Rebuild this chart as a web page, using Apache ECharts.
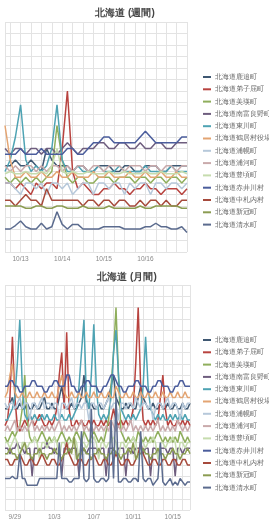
<!DOCTYPE html>
<html>
<head>
<meta charset="utf-8">
<script src="https://cdn.jsdelivr.net/npm/echarts@6/dist/echarts.min.js"></script>
<style>
  html, body { margin: 0; padding: 0; background: #fff; }
  #chart { width: 269px; height: 522px; }
</style>
</head>
<body>
<div id="chart"></div>
<script>
// series names (same for both panels)
const names = [
  "北海道鹿追町", "北海道弟子屈町", "北海道美瑛町", "北海道南富良野町", "北海道東川町",
  "北海道鶴居村役場", "北海道浦幌町", "北海道浦河町", "北海道豊頃町", "北海道赤井川村 ",
  "北海道中札内村", "北海道新冠町", "北海道清水町"
];
const colors = [
  "#3f5872", "#b8433f", "#8fae5c", "#6e5d7e", "#4ea3b3", "#e3a472", "#b6c8da",
  "#c9aaab", "#c6dcae", "#4b5d9c", "#a64a3c", "#8b9c52", "#5b6b8e"
];

const weekTicks = ["10/13", "10/14", "10/15", "10/16"];
const monthTicks = ["9/29", "10/3", "10/7", "10/11", "10/15"];

// 週間: 3-hour steps from 10/12 15:00
const week1 = [7.5,7.5,8,7.5,7.5,8,7.5,7,9,8,7.5,7.5,7.5,7,7.5,7.5,7,7,7.5,7.5,7.5,7,7,7.5,7.5,7,7,7.5,7.5,7.5,7,7,7.5,7.5,7.5,7.5];
const week2 = [6,6,5.5,6,5.5,5,6,5.5,6,6,5.5,9,14,7,5.5,6,5.5,5,5,5.5,5.5,6,5.5,5.5,5,5.5,5.5,6,5.5,5.5,5,5.5,5.5,5.5,5,5.5];
const week3 = [6.5,6,6.5,6,6.5,6,6.5,6,6.5,7,11,8,6.5,6,6.5,6.5,6,6,6.5,6.5,6.5,6,6.5,6.5,6.5,6,6.5,6.5,6,6.5,6.5,6,6.5,6.5,6,6.5];
const week4 = [9,8.5,9,9,8.5,9,9,8.5,9,9,8.5,9,9.5,9,8.5,9,9,9,9.5,9.5,9,9,9.5,9.5,9,9,9.5,9,9,9.5,9.5,9,9,9.5,9.5,9.5];
const week5 = [7,8,10,12.8,8,7,7.5,7,7.5,9,12.8,8,7,7,7.5,7,7,7,7.5,7,7,7,7.5,7,7,7,7,7.5,7,7,7,7,7.5,7,7,7];
const week6 = [11,8,6.5,6.5,7,6.5,6.5,7,6.5,6.5,7,6.5,6.5,7,6.5,6.5,6.5,7,6.5,6.5,7,6.5,6.5,6.5,7,6.5,6.5,7,6.5,6.5,7,6.5,6.5,7,6.5,6.5];
const week7 = [6,6,5.5,5,6,6,5.5,6,5,6,6,5.5,6,5,5.5,6,6,5,6,6,5.5,6,6,5,6,5.5,6,6,5,6,6,5.5,6,6,5.5,6];
const week8 = [7.5,7,7.5,7,7.5,7.5,7,7.5,7,7.5,7.5,7,7.5,7,7.5,7.5,7,7.5,7.5,7,7.5,7.5,7.5,7,7.5,7.5,7.5,7,7.5,7.5,7,7.5,7.5,7,7.5,7.5];
const week9 = [6.8,7,6.8,6.8,7,6.8,6.8,7,6.8,7.5,9,7,6.8,7,6.8,6.8,7,6.8,6.8,6.8,7,6.8,6.8,7,6.8,6.8,6.8,7,6.8,6.8,7,6.8,6.8,6.8,7,6.8];
const week10 = [8.5,8.5,8.5,9,8.5,8.5,8.5,9,8.5,8.5,8.5,8.5,9,9,8.5,8.5,9,9.5,9.5,10,10,9.5,9.5,9.5,9.5,9.5,10,10.5,10,9.5,9.5,9.5,9.5,9.5,10,10];
const week11 = [4.5,4.5,4,4.5,5,4.5,4.5,4,5.5,4.5,4.5,4.5,4.5,4.5,4.5,4,4.5,4.5,4,4.5,4.5,4,4.5,4.5,4,4,4.5,4,4.5,4.5,4,4.5,4,4,4.5,4.5];
const week12 = [4,4,4,4,3.8,3.8,4,4,3.8,3.8,4,4,3.8,3.8,3.8,4,3.8,3.8,3.8,3.8,4,3.8,3.8,3.8,3.8,3.8,4,3.8,3.8,4,4,4,4,4,3.8,3.8];
const week13 = [2,2,2.3,2.7,2.2,2,2,2.5,2,2.2,3.5,2.4,2,2.4,2.4,2,2,2,2,2.2,2.2,2.2,2.2,2,2,2,2,2.2,2.2,2.5,2.2,2.2,2,2,2.2,1.7];

// 月間: 6-hour steps from 9/28 00:00
const month1 = [9,9,9.5,10,9,9,9.5,9,9,9.5,9,9,9.5,9,9,9.5,10,9,9,
  9.5,9,9,10,11,9.5,9,9,9.5,9,9,9.5,10,12,9.5,9,9.5,9,9,
  9.5,9,9,9.5,10,11,12,10,9.5,9,9,9.5,9,9.5,9,9,10,11,10,
  9.5,9,9,9.5,9,9,9.5,9,9,9.5,9,9,9.5,9,9,9.5,9,9,9.5];
const month2 = [7.5,8,10,15.4,10,7.5,7,7.5,8,7.5,8.5,8,7.5,8,8.5,8,7.5,7.5,8,
  7.5,8,9,12,14,9,15.8,9,7.5,7.5,8,7.5,8,7.5,7.5,8,7.5,8,7.5,
  7.5,8,7.5,8,7.5,8,9,8,7.5,8,7.5,8,7.5,8,9,13,18,11,8,
  7.5,8,7.5,8,7.5,8,10,12,9,7.5,8,7.5,7.5,8,7.5,8,7.5,8,7.5];
const month3 = [6.5,6,6.5,7,6.5,7,7.5,9,12,8,6.5,6,6.5,6,6.5,7,6.5,6,6.5,
  6,6.5,6,6.5,7,6.5,6,6.5,6,6.5,7,6.5,6,7,6.5,6,6.5,7,6.5,
  6,6.5,6,7,8,11,14,18,12,7,6.5,6,6.5,6,6.5,6,7,6.5,6,
  6.5,6,6.5,6,6.5,7,6.5,6,6.5,6,6.5,6,6.5,6,7,6.5,6,6.5,6];
const month4 = [5.5,5.5,5,5.5,5.5,6,5.5,5.5,5,5.5,5.5,3,5.5,5.5,5,5.5,5.5,6,5.5,
  5.5,5,5.5,5.5,3,5.5,5.5,5,5.5,5.5,5.5,3,5.5,5.5,5,5.5,5.5,5.5,5.5,
  5,5.5,5.5,3,5.5,5.5,5.5,5,5.5,5.5,5.5,3,5.5,5.5,5,5.5,5.5,5.5,5,
  5.5,5.5,3,5.5,5.5,5,5.5,5.5,5.5,5,5.5,5.5,3,5.5,5.5,5,5.5,5.5,5.5];
const month5 = [8,8,8.5,9,10,13,16.9,11,8.5,8,8.5,8,8.5,8,8,8.5,8,8.5,8,
  8,8.5,8,8,8.5,8,8,8.5,8,8.5,9,11,14,16.9,10,9,12,16.5,11,
  8.5,8,8.5,8,8.5,10,14,16,12,9,8.5,8,8.5,8,8.5,8,8.5,9,11,
  15.4,11,9,8.5,8,8.5,8,8.5,8,8,8.5,8,8.5,8,8.5,8,8.5,8,8];
const month6 = [10,10.5,12,13,10.5,10,10,10.5,10,10,10.5,10,10,10.5,10,10,10.5,10,10,
  10.5,10,10,11,12,10.5,10,10,10.5,10,10,10.5,10,10,10.5,10,10,10.5,10,
  10,10.5,10,10,10.5,10,10,11,10.5,10,10,10.5,10,10,10.5,10,10,10.5,10,
  10,10.5,10,10,10.5,10,10,10.5,10,10,10.5,10,10,10.5,10,10,10.5,10,10];
const month7 = [9.5,9,9.5,9.5,9,9.5,10,9,9.5,9.5,8,9.5,9.5,9,9.5,10,9,9.5,9.5,
  9,9.5,9.5,8,9.5,9.5,9,9.5,10,9,9.5,9.5,9,9.5,9.5,8,9.5,9.5,9,
  9.5,9.5,9,9.5,10,9,9.5,9.5,8,9.5,9.5,9,9.5,9.5,9,10,9.5,9,9.5,
  9.5,9,9.5,8,9,9.5,9.5,9,9.5,10,9,9.5,9.5,9,8,9.5,9,9.5,9.5];
const month8 = [7,7.5,7,7.5,8,7,7.5,7,7.5,7,7.5,8,7,7.5,7,7.5,7,7.5,7,
  7.5,7,7.5,8,7,7.5,7,7.5,7,7.5,7,7.5,8,7,7.5,7,7.5,7,7.5,
  7,7.5,7,7.5,7,8,7.5,7,7.5,7,7.5,7,7.5,8,7,7.5,7,7.5,7,
  7.5,7,7.5,7,7.5,8,7,7.5,7,7.5,7,7.5,7,8,7.5,7,7.5,7,7.5];
const month9 = [6,6,5.5,6,6.5,6,4.5,6,6,5.5,6,6,6.5,6,4.5,6,6,5.5,6,
  6,6.5,6,4.5,6,6,5.5,6,6,6.5,6,4.5,6,6,5.5,6,6,6.5,6,
  4.5,6,6,5.5,6,6,6.5,6,4.5,6,6,5.5,6,6,6.5,6,4.5,6,6,
  5.5,6,6,6.5,6,4.5,6,6,5.5,6,6,6.5,6,4.5,6,6,5.5,6,6];
const month10 = [11,11,11.5,11.5,11,11,10.5,10.5,11,11,11,11.5,11.5,11,11,11,10.5,10.5,11,
  11,11.5,11.5,11,11,11,12,12,11,11,10.5,10.5,11,11,11.5,11.5,11,11,11,
  10.5,10.5,11,11,11.5,12,12,11.5,11,11,10.5,10.5,11,11,11,11.5,11.5,11,11,
  11,10.5,10.5,11,11,11.5,11.5,11,11,11,10.5,10.5,11,11,11.5,11.5,11,11,11];
const month11 = [4.5,4.5,4,4,4.5,4.5,5,4.5,4,4,4.5,4.5,4,4,4.5,5,4.5,4,4,
  4.5,4.5,4,4,4.5,5,6,5,4.5,4,4,4.5,4.5,4,4,4.5,4.5,5,4.5,
  4,4,4.5,4.5,4,4,4.5,5,4.5,4,4,4.5,4.5,4,4,4.5,5,6,5,
  4.5,4,4,4.5,4.5,4,4,4.5,4.5,4,4,4.5,4.5,4,4,4.5,4.5,4,4];
const month12 = [5,5,5.5,5,5,4.5,5,5.5,6,5,5,4.5,5,5,5.5,5,5,4.5,5,
  5,5.5,5,5,4.5,5,5,5.5,5,6.5,4.5,5,5,5.5,5,5,4.5,5,5,
  5.5,5,5,4.5,5,5,5.5,5,5,4.5,5,5,5.5,5,6,4.5,5,5,5.5,
  5,5,4.5,5,5,5.5,5,5,4.5,5,5,5.5,5,5,4.5,5,5,5.5,5];
const month13 = [2.8,2.8,2.8,3,2.8,2.8,5,2.8,2.8,2.2,2.2,2.2,2.2,2.2,2.8,2.8,2.8,2.8,2.8,
  2.8,2.8,2.8,6,2.8,2.8,2.8,2.5,2.5,2.8,2.8,2.8,7,2.8,2.5,2.8,9,2.8,2.5,
  2.5,2.8,2.8,2.5,2.8,8,2.8,10,2.5,2.5,2.8,2.8,2.5,2.5,2.8,2.8,2.5,7,2.8,
  2.5,2.8,2.8,2.2,2.5,2.8,6,2.5,2.2,2.5,2.8,2.2,2.5,2.2,2.8,2.5,2.2,2.5,2.5];

const weekData = [week1, week2, week3, week4, week5, week6, week7, week8, week9, week10, week11, week12, week13];
const monthData = [month1, month2, month3, month4, month5, month6, month7, month8, month9, month10, month11, month12, month13];

// "M/D H" labels from a start time and step
function makeCategories(start, stepHours, count) {
  const out = [];
  for (let i = 0; i < count; i++) {
    const d = new Date(start + i * stepHours * 3600000);
    out.push((d.getUTCMonth() + 1) + "/" + d.getUTCDate() + " " + d.getUTCHours());
  }
  return out;
}
const weekCats = makeCategories(Date.UTC(2024, 9, 12, 15), 3, week1.length);
const monthCats = makeCategories(Date.UTC(2024, 8, 28, 0), 6, month1.length);

const dayOf = v => v.split(" ")[0];
const hourOf = v => +v.split(" ")[1];

function xAxis(gridIndex, cats, ticks, splitTest) {
  return {
    type: "category",
    gridIndex: gridIndex,
    data: cats,
    boundaryGap: false,
    axisLine: { show: false },
    axisTick: { show: false },
    axisLabel: {
      interval: (i, v) => hourOf(v) === 0 && ticks.includes(dayOf(v)),
      formatter: v => dayOf(v),
      fontSize: 6.5,
      color: "#888",
      margin: 4
    },
    splitLine: {
      show: true,
      interval: (i, v) => i === 0 || i === cats.length - 1 || splitTest(v),
      lineStyle: { color: "#e3e3e3", width: 1 }
    }
  };
}

function yAxis(gridIndex) {
  return {
    type: "value",
    gridIndex: gridIndex,
    min: 0,
    max: 20,
    interval: 1,
    axisLabel: { show: false },
    axisLine: { show: false },
    axisTick: { show: false },
    splitLine: { lineStyle: { color: "#e3e3e3", width: 1 } }
  };
}

function legend(top) {
  return {
    orient: "vertical",
    left: 198,
    top: top,
    icon: "rect",
    itemWidth: 8,
    itemHeight: 2,
    itemGap: 4.3,
    data: names,
    textStyle: { fontSize: 7, lineHeight: 8, color: "#666", padding: [0, 0, 0, -1] }
  };
}

const series = [];
names.forEach((name, i) => {
  series.push({
    name: name, type: "line", xAxisIndex: 0, yAxisIndex: 0,
    data: weekData[i], symbol: "none", lineStyle: { width: 1.5 }
  });
  series.push({
    name: name, type: "line", xAxisIndex: 1, yAxisIndex: 1,
    data: monthData[i], symbol: "none", lineStyle: { width: 1.5 }
  });
});

const chart = echarts.init(document.getElementById("chart"));
chart.setOption({
  animation: false,
  color: colors,
  title: [
    { text: "北海道 (週間)", left: 120, top: 3, textAlign: "center",
      textStyle: { fontSize: 10, fontWeight: "bold", color: "#444" } },
    { text: "北海道 (月間)", left: 122, top: 267, textAlign: "center",
      textStyle: { fontSize: 10, fontWeight: "bold", color: "#444" } }
  ],
  legend: [legend(68), legend(331)],
  grid: [
    { left: 5, right: 82, top: 22, bottom: 270 },
    { left: 5, right: 79, top: 285, bottom: 12 }
  ],
  xAxis: [
    xAxis(0, weekCats, weekTicks, v => hourOf(v) % 6 === 0),
    xAxis(1, monthCats, monthTicks, v => hourOf(v) === 0)
  ],
  yAxis: [yAxis(0), yAxis(1)],
  series: series
});
</script>
</body>
</html>
